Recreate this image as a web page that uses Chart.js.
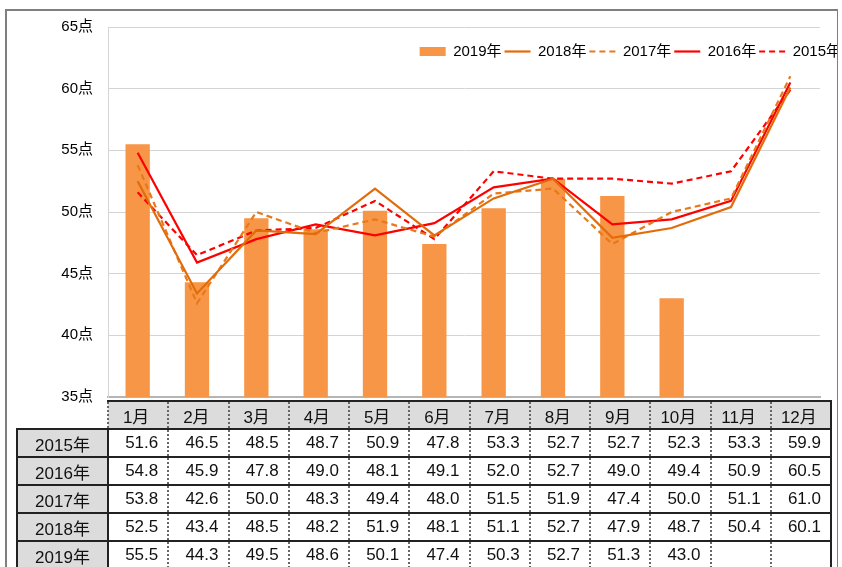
<!DOCTYPE html>
<html>
<head>
<meta charset="utf-8">
<script src="https://cdn.jsdelivr.net/npm/chart.js@4.4.0/dist/chart.umd.min.js"></script>
<style>
  body { margin: 0; background: #fff; font-family: "Liberation Sans", "Noto Sans CJK JP", sans-serif; }
  #clip { position: absolute; left: 0; top: 0; width: 838px; height: 567px; overflow: hidden; }
  #chartBox { position: absolute; left: 0; top: 0; }
  #frame { position: absolute; left: 5px; top: 9px; width: 830px; height: 600px; border: 2px solid #7f7f7f; pointer-events: none; }
  #tbl { position: absolute; left: 16px; top: 400px; width: 816px; border-collapse: collapse; table-layout: fixed; font-size: 17px; color: #111; }
  #tbl td { height: 26px; padding: 0; border-top: 2px solid #222; border-bottom: 2px solid #222; border-left: 2px dotted #666; border-right: 2px dotted #666; text-align: right; padding-right: 9px; background: #fff; }
  #tbl td.rh { background: #dcdcdc; text-align: center; padding-right: 0; border-left: 2px solid #222; border-right: 2px solid #222; }
  #tbl tr.head td { background: #dcdcdc; text-align: center; padding-right: 4px; }
  #tbl tr.head td.blank { background: transparent; border: none; }
  #tbl td.last { border-right: 2px solid #222; }
</style>
</head>
<body>
<div id="clip">
  <div id="chartBox"><canvas id="mainChart" width="842" height="421"></canvas></div>
  <table id="tbl"></table>
  <div id="frame"></div>
</div>
<script>
const months = ["1月", "2月", "3月", "4月", "5月", "6月", "7月", "8月", "9月", "10月", "11月", "12月"];
const v2015 = [51.6, 46.5, 48.5, 48.7, 50.9, 47.8, 53.3, 52.7, 52.7, 52.3, 53.3, 59.9];
const v2016 = [54.8, 45.9, 47.8, 49.0, 48.1, 49.1, 52.0, 52.7, 49.0, 49.4, 50.9, 60.5];
const v2017 = [53.8, 42.6, 50.0, 48.3, 49.4, 48.0, 51.5, 51.9, 47.4, 50.0, 51.1, 61.0];
const v2018 = [52.5, 43.4, 48.5, 48.2, 51.9, 48.1, 51.1, 52.7, 47.9, 48.7, 50.4, 60.1];
const v2019 = [55.5, 44.3, 49.5, 48.6, 50.1, 47.4, 50.3, 52.7, 51.3, 43.0, null, null];
const yTicks = [35, 40, 45, 50, 55, 60, 65];

// data table under the chart
const tbl = document.getElementById("tbl");
let html = '<colgroup><col style="width:91px">' + months.map(() => "<col>").join("") + "</colgroup>";
html += '<tr class="head"><td class="blank"></td>' + months.map((m, i) => '<td' + (i == 11 ? ' class="last"' : '') + '>' + m + "</td>").join("") + "</tr>";
const rows = [["2015年", v2015], ["2016年", v2016], ["2017年", v2017], ["2018年", v2018], ["2019年", v2019]];
rows.forEach(r => {
  html += '<tr><td class="rh">' + r[0] + "</td>" + r[1].map((v, i) => '<td' + (i == 11 ? ' class="last"' : '') + '>' + (v == null ? "" : v.toFixed(1)) + "</td>").join("") + "</tr>";
});
tbl.innerHTML = html;

// legend sits inside the plot, so it must not eat layout height
const legendInside = {
  id: "legendInside",
  beforeLayout(chart) {
    const lg = chart.legend;
    if (lg && !lg._patched) {
      const fit = lg.fit;
      lg.fit = function () { fit.call(this); this.height = 0; };
      lg._patched = true;
    }
  },
  afterLayout(chart) {
    const lg = chart.legend;
    lg.left += 24;
    lg.right += 24;
    lg.top = 41;
    lg.bottom = 61;
  }
};

const font = { family: "'Liberation Sans', 'Noto Sans CJK JP', sans-serif", size: 15 };

new Chart(document.getElementById("mainChart"), {
  data: {
    labels: months,
    datasets: [
      { type: "bar", label: "2019年", data: v2019, backgroundColor: "#f79646", barPercentage: 0.41, categoryPercentage: 1, order: 1 },
      { type: "line", label: "2018年", data: v2018, borderColor: "#e36c0a", borderWidth: 2.2, pointRadius: 0, fill: false },
      { type: "line", label: "2017年", data: v2017, borderColor: "#e9781a", borderWidth: 2.2, borderDash: [6, 4], pointRadius: 0, fill: false },
      { type: "line", label: "2016年", data: v2016, borderColor: "#ff0000", borderWidth: 2.2, pointRadius: 0, fill: false },
      { type: "line", label: "2015年", data: v2015, borderColor: "#ff0000", borderWidth: 2.2, borderDash: [6, 4], pointRadius: 0, fill: false },
    ],
  },
  options: {
    responsive: false,
    animation: false,
    layout: { padding: { left: 0, right: 22, top: 27, bottom: 1 } },
    scales: {
      x: {
        ticks: { display: false },
        grid: { display: false, drawTicks: false },
        border: { color: "#b5b5b5", width: 2 },
      },
      y: {
        min: 35,
        max: 65,
        afterFit: (s) => { s.width = 108; },
        afterBuildTicks: (s) => { s.ticks = yTicks.map(v => ({ value: v })); },
        ticks: { callback: (v) => v + "点", color: "#000", font: font, padding: 15 },
        grid: { color: "#d4d4d4", drawTicks: false },
        border: { color: "#d4d4d4" },
      },
    },
    plugins: {
      tooltip: { enabled: false },
      legend: {
        position: "top",
        align: "end",
        labels: {
          usePointStyle: true,
          pointStyleWidth: 26,
          boxHeight: 9,
          padding: 3,
          color: "#000",
          font: font,
          sort: (a, b) => a.datasetIndex - b.datasetIndex,
          generateLabels: (chart) => chart.data.datasets.map((d, i) => ({
            text: d.label,
            datasetIndex: i,
            fillStyle: d.type == "bar" ? d.backgroundColor : "transparent",
            strokeStyle: d.type == "bar" ? "transparent" : d.borderColor,
            lineWidth: d.type == "bar" ? 0 : 2.2,
            lineDash: d.borderDash || [],
            pointStyle: d.type == "bar" ? "rect" : "line",
            fontColor: "#000",
          })),
        },
      },
    },
  },
  plugins: [legendInside],
});
</script>
</body>
</html>
